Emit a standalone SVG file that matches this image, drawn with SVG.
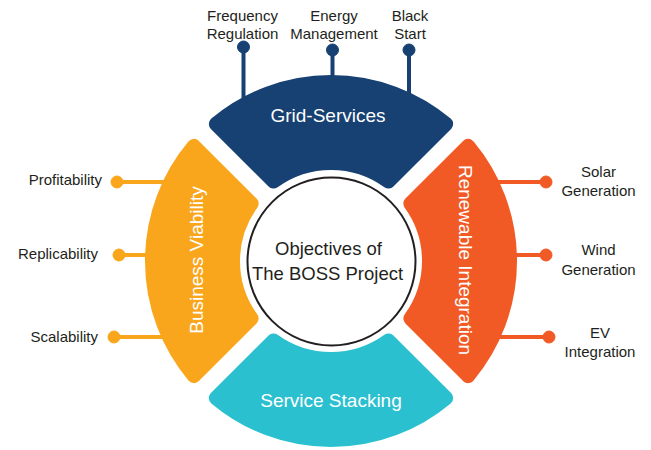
<svg xmlns="http://www.w3.org/2000/svg" width="651" height="450" viewBox="0 0 651 450">
<style>
.seg{stroke-width:14;stroke-linejoin:round}
.blue{fill:#164172;stroke:#164172}
.orange{fill:#f15a25;stroke:#f15a25}
.yellow{fill:#f9a61c;stroke:#f9a61c}
.cyan{fill:#2ac0cf;stroke:#2ac0cf}
.segtxt{font-family:"Liberation Sans",Arial,sans-serif;font-size:19px;fill:#ffffff;text-anchor:middle}
.lbl{font-family:"Liberation Sans",Arial,sans-serif;font-size:15px;fill:#231f20}
.mid{text-anchor:middle}
.end{text-anchor:end}
.ln{stroke-width:4;fill:none}
.ctr{font-family:"Liberation Sans",Arial,sans-serif;font-size:18.5px;fill:#231f20;text-anchor:middle}
</style>
<rect width="651" height="450" fill="#ffffff"/>
<g id="connectors">
  <g stroke="#164172" fill="#164172">
    <line class="ln" x1="243.5" y1="47" x2="243.5" y2="105"/>
    <line class="ln" x1="332.5" y1="50" x2="332.5" y2="85"/>
    <line class="ln" x1="409" y1="50" x2="409" y2="100"/>
    <circle cx="243.5" cy="47" r="6"/>
    <circle cx="332.5" cy="50" r="6"/>
    <circle cx="409" cy="50" r="6"/>
  </g>
  <g stroke="#f9a61c" fill="#f9a61c">
    <line class="ln" x1="117" y1="182" x2="172" y2="182"/>
    <line class="ln" x1="119" y1="255" x2="155" y2="255"/>
    <line class="ln" x1="114" y1="337" x2="170" y2="337"/>
    <circle cx="117" cy="182" r="6"/>
    <circle cx="119" cy="255" r="6"/>
    <circle cx="114" cy="337" r="6"/>
  </g>
  <g stroke="#f15a25" fill="#f15a25">
    <line class="ln" x1="490" y1="182" x2="546" y2="182"/>
    <line class="ln" x1="508" y1="255" x2="546" y2="255"/>
    <line class="ln" x1="492" y1="337" x2="549" y2="337"/>
    <circle cx="546" cy="182" r="6"/>
    <circle cx="546" cy="255" r="6"/>
    <circle cx="549" cy="337" r="6"/>
  </g>
</g>
<g id="grid-services">
  <path class="seg blue" d="M 215.85 123.95 A 179 179 0 0 1 446.15 123.95 L 388.48 181.62 A 98 98 0 0 0 273.52 181.62 Z"/>
  <text class="segtxt" x="328" y="122">Grid-Services</text>
</g>
<g id="renewable-integration">
  <path class="seg orange" d="M 468.05 145.85 A 179 179 0 0 1 468.05 376.15 L 410.38 318.48 A 98 98 0 0 0 410.38 203.52 Z"/>
  <text class="segtxt" transform="translate(459,260) rotate(90)" x="0" y="0">Renewable Integration</text>
</g>
<g id="service-stacking">
  <path class="seg cyan" d="M 446.15 398.05 A 179 179 0 0 1 215.85 398.05 L 273.52 340.38 A 98 98 0 0 0 388.48 340.38 Z"/>
  <text class="segtxt" x="331" y="407">Service Stacking</text>
</g>
<g id="business-viability">
  <path class="seg yellow" d="M 193.95 376.15 A 179 179 0 0 1 193.95 145.85 L 251.62 203.52 A 98 98 0 0 0 251.62 318.48 Z"/>
  <text class="segtxt" transform="translate(203,260) rotate(-90)" x="0" y="0">Business Viability</text>
</g>
<g id="center">
  <circle cx="331.5" cy="261.5" r="84" fill="#ffffff" stroke="#231f20" stroke-width="2"/>
  <text class="ctr" x="328.5" y="255">Objectives of</text>
  <text class="ctr" x="327.5" y="280">The BOSS Project</text>
</g>
<g id="frequency-regulation">
  <text class="lbl mid" x="242.5" y="21">Frequency</text>
  <text class="lbl mid" x="242.5" y="38.5">Regulation</text>
</g>
<g id="energy-management">
  <text class="lbl mid" x="334" y="21">Energy</text>
  <text class="lbl mid" x="334" y="38.5">Management</text>
</g>
<g id="black-start">
  <text class="lbl mid" x="410" y="21">Black</text>
  <text class="lbl mid" x="410" y="38.5">Start</text>
</g>
<g id="profitability">
  <text class="lbl end" x="102" y="185">Profitability</text>
</g>
<g id="replicability">
  <text class="lbl end" x="98" y="259">Replicability</text>
</g>
<g id="scalability">
  <text class="lbl end" x="98" y="342">Scalability</text>
</g>
<g id="solar-generation">
  <text class="lbl mid" x="598.5" y="177">Solar</text>
  <text class="lbl mid" x="598.5" y="196">Generation</text>
</g>
<g id="wind-generation">
  <text class="lbl mid" x="598.5" y="254.5">Wind</text>
  <text class="lbl mid" x="598.5" y="274.5">Generation</text>
</g>
<g id="ev-integration">
  <text class="lbl mid" x="600" y="338">EV</text>
  <text class="lbl mid" x="600" y="357">Integration</text>
</g>
</svg>
